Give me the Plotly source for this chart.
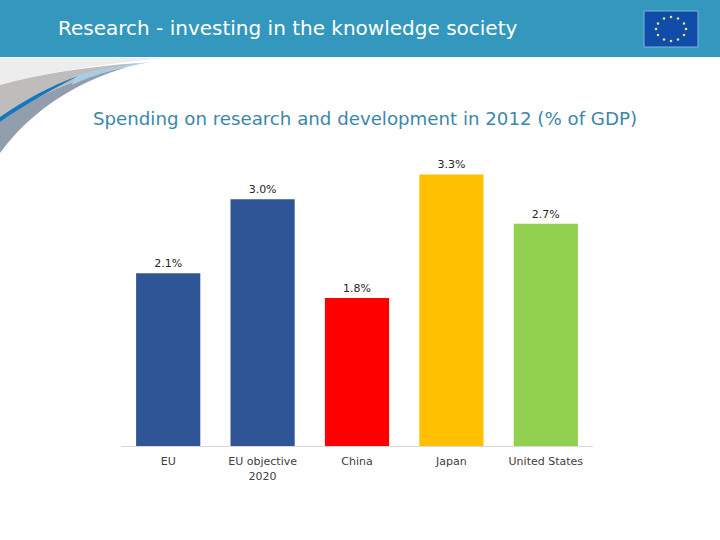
import plotly.graph_objects as go

categories = ['EU', 'EU objective<br>2020', 'China', 'Japan', 'United States']
spending = [2.1, 3.0, 1.8, 3.3, 2.7]
bar_colors = ['#2F5597', '#2F5597', '#FF0000', '#FFC000', '#92D050']

W, H = 720, 540
L, R, T, B = 121, 127, 158, 94


# page pixels -> paper coordinates, for the slide decoration
def px(x):
    return (x - L) / (W - L - R)


def py(y):
    return (H - B - y) / (H - T - B)


def path(points, close=True):
    s = ''
    for cmd, coords in points:
        s += cmd + ' '.join(f'{px(coords[i]):.4f},{py(coords[i + 1]):.4f}' for i in range(0, len(coords), 2)) + ' '
    return s + ('Z' if close else '')


def rect(x0, y0, x1, y1, color, line=None):
    return dict(type='rect', xref='paper', yref='paper', x0=px(x0), x1=px(x1), y0=py(y0), y1=py(y1),
                fillcolor=color, line=dict(width=1 if line else 0, color=line or color), layer='below')


shapes = [
    rect(0, 0, 720, 57, '#3497BE'),
    # swoosh in the top left corner
    dict(type='path', xref='paper', yref='paper', layer='below', fillcolor='#EDEDED', line_width=0,
         path=path([('M', [0, 58]), ('L', [165, 58]), ('C', [100, 64, 40, 74, 0, 85])])),
    dict(type='path', xref='paper', yref='paper', layer='below', fillcolor='#BFBDBC', line_width=0,
         path=path([('M', [0, 85]), ('C', [40, 74, 90, 66, 140, 63]), ('C', [80, 76, 35, 95, 0, 122])])),
    dict(type='path', xref='paper', yref='paper', layer='below', fillcolor='#929DAE', line_width=0,
         path=path([('M', [0, 122]), ('C', [35, 95, 80, 76, 128, 67]), ('C', [75, 82, 30, 112, 0, 153])])),
    dict(type='path', xref='paper', yref='paper', layer='below', fillcolor='#A9CDE4', line_width=0,
         path=path([('M', [75, 76]), ('C', [95, 70, 115, 66, 150, 62]), ('C', [120, 68, 95, 74, 72, 85])])),
    dict(type='path', xref='paper', yref='paper', layer='below', fillcolor='#1279BD', line_width=0,
         path=path([('M', [0, 117]), ('C', [25, 100, 50, 86, 78, 76]), ('C', [55, 88, 25, 104, 0, 122])])),
    # EU flag
    rect(644, 11, 698, 47, '#0F4DA8', line='#7FB4DC'),
]

# flag stars, clock positions
star_x = [671, 678, 684, 686, 684, 678, 671, 664, 658, 656, 658, 664]
star_y = [17, 18.5, 23.5, 29, 35, 39.5, 41, 39.5, 35, 29, 23.5, 18.5]
for sx, sy in zip(star_x, star_y):
    shapes.append(dict(type='circle', xref='paper', yref='paper', layer='above',
                       x0=px(sx - 1.3), x1=px(sx + 1.3), y0=py(sy + 1.3), y1=py(sy - 1.3),
                       fillcolor='#E3E07A', line_width=0))

fig = go.Figure(go.Bar(x=categories, y=spending, marker_color=bar_colors, marker_line_width=0,
                       text=[f'{v:.1f}%' for v in spending], textposition='outside', cliponaxis=False,
                       textfont=dict(family='DejaVu Sans', size=11, color='#262626')))

fig.update_layout(
    width=W, height=H, autosize=False, showlegend=False,
    paper_bgcolor='white', plot_bgcolor='rgba(0,0,0,0)',
    margin=dict(l=L, r=R, t=T, b=B, pad=0),
    bargap=0.32, shapes=shapes,
    annotations=[
        dict(text='Research - investing in the knowledge society', xref='paper', yref='paper',
             x=px(56), y=py(28), xanchor='left', yanchor='middle', showarrow=False,
             font=dict(family='DejaVu Sans', size=20, color='white')),
        dict(text='Spending on research and development in 2012 (% of GDP)', xref='paper', yref='paper',
             x=px(91), y=py(118.5), xanchor='left', yanchor='middle', showarrow=False,
             font=dict(family='DejaVu Sans', size=18.2, color='#3A87AD')),
    ],
)
fig.update_xaxes(showline=True, linecolor='#D9D9D9', linewidth=1, ticks='', showgrid=False,
                 tickfont=dict(family='DejaVu Sans', size=11, color='#404040'), ticklabelstandoff=5)
fig.update_yaxes(visible=False, range=[0, 3.5], showgrid=False)

# the page has a default 8px body margin, drop it so the slide fills the window
fig.write_html('out.html', post_script="document.body.style.margin='0';",
               config=dict(displayModeBar=False))
